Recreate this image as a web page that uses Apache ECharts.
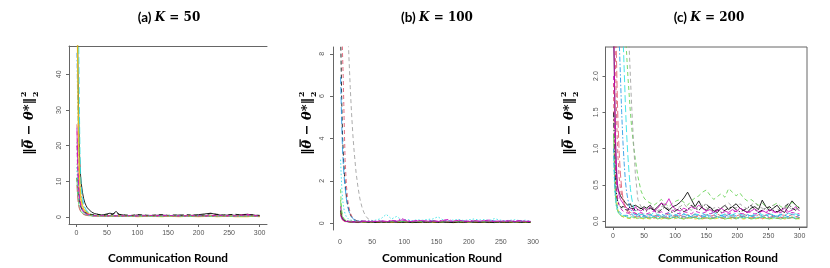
<!DOCTYPE html>
<html><head><meta charset="utf-8">
<script src="https://cdn.jsdelivr.net/npm/echarts@6/dist/echarts.min.js"></script>
<style>html,body{margin:0;padding:0;background:#fff}#c{width:830px;height:268px}</style>
</head><body><div id="c"></div>
<script>
// ---------- tick labels ----------
const xTicks = [0, 50, 100, 150, 200, 250, 300];
const yTicksK50 = [0, 10, 20, 30, 40];
const yTicksK100 = [0, 2, 4, 6, 8];
const yTicksK200 = [0, 0.5, 1.0, 1.5, 2.0];
const titles = ['(a) ', '(b) ', '(c) '];
const kValues = ['50', '100', '200'];
const xName = 'Communication Round';

// ---------- (a) K = 50 ----------
const roundsK50 = [1,2,3,4,5,6,7,8,10,12,14,16,18,20,25,30,35,40,45,50,55,60,65,70,80,90,100,110,120,130,140,150,160,170,180,190,200,210,220,230,240,250,260,270,280,290,300];
const k50_1 = [62,50,38,27,19,14,11.5,9.5,7,5.2,4,3.2,2.6,2.1,1.4,1.0,0.8,0.6,0.7,0.9,1.1,0.9,1.6,0.8,0.5,0.4,0.6,0.5,0.4,0.5,0.6,0.4,0.5,0.6,0.4,0.5,0.7,0.9,1.1,0.7,0.5,0.6,0.5,0.7,0.8,0.6,0.3];
const k50_2 = [26,19,14,10,7.5,5.8,4.6,3.7,2.6,1.9,1.5,1.2,1.0,0.85,0.6,0.45,0.4,0.35,0.45,0.3,0.4,0.35,0.3,0.4,0.3,0.4,0.5,0.35,0.3,0.45,0.4,0.5,0.3,0.4,0.35,0.5,0.4,0.3,0.45,0.6,0.4,0.5,0.35,0.6,0.8,0.5,0.4];
const k50_3 = [21,15,11,8,6,4.7,3.8,3.1,2.2,1.6,1.2,1.0,0.8,0.7,0.5,0.4,0.5,0.6,0.4,0.7,0.5,0.4,0.3,0.5,0.4,0.3,0.5,0.4,0.3,0.4,0.5,0.3,0.4,0.5,0.3,0.4,0.3,0.5,0.4,0.3,0.5,0.4,0.3,0.4,0.5,0.3,0.2];
const k50_4 = [46,35,26,19,14,10.5,8,6.2,4.2,3.0,2.2,1.7,1.35,1.1,0.7,0.5,0.45,0.4,0.5,0.35,0.3,0.4,0.35,0.3,0.35,0.3,0.25,0.3,0.35,0.3,0.25,0.35,0.3,0.4,0.3,0.25,0.3,0.35,0.3,0.25,0.3,0.35,0.3,0.25,0.3,0.35,0.2];
const k50_5 = [70,62,55,47,30,18,12,8.5,5.5,3.8,2.8,2.1,1.6,1.3,0.8,0.55,0.45,0.4,0.35,0.5,0.4,0.3,0.35,0.4,0.3,0.35,0.4,0.3,0.25,0.35,0.3,0.4,0.35,0.3,0.25,0.3,0.35,0.4,0.3,0.35,0.25,0.3,0.4,0.35,0.3,0.25,0.2];
const k50_6 = [25,17,12,8.5,6,4.5,3.4,2.7,1.8,1.3,1.0,0.8,0.65,0.55,0.4,0.35,0.3,0.4,0.3,0.35,0.3,0.4,0.3,0.35,0.3,0.4,0.35,0.3,0.4,0.5,0.35,0.4,0.3,0.35,0.4,0.3,0.35,0.4,0.5,0.35,0.3,0.4,0.3,0.5,0.7,0.4,0.3];
const k50_7 = [70,48,30,19,12,8.5,6.2,4.8,3.2,2.3,1.8,1.4,1.1,0.9,0.6,0.5,0.4,0.35,0.3,0.3,0.4,0.3,0.25,0.3,0.25,0.3,0.2,0.25,0.3,0.25,0.2,0.3,0.25,0.2,0.3,0.25,0.2,0.25,0.3,0.2,0.25,0.3,0.2,0.25,0.2,0.3,0.2];
const k50_8 = [15,11,8,6,4.6,3.6,2.9,2.4,1.7,1.3,1.0,0.8,0.7,0.6,0.45,0.4,0.35,0.3,0.4,0.3,0.35,0.3,0.25,0.3,0.2,0.25,0.3,0.2,0.25,0.3,0.2,0.25,0.2,0.3,0.25,0.2,0.25,0.3,0.2,0.25,0.2,0.3,0.25,0.2,0.3,0.25,0.2];
const k50_9 = [11,8.5,6.5,5.2,4.2,3.5,3.0,2.6,2.0,1.6,1.3,1.1,1.0,0.9,0.7,0.6,0.8,0.6,0.5,0.7,0.6,0.8,1.2,0.7,0.6,0.5,0.7,0.6,0.5,0.6,0.7,0.5,0.6,0.5,0.7,0.6,0.5,0.6,1.0,0.8,0.6,0.7,0.8,0.6,0.7,0.6,0.5];
const k50_10 = [11,7,5,3.6,2.7,2.1,1.7,1.4,1.0,0.8,0.65,0.55,0.5,0.45,0.35,0.3,0.35,0.3,0.25,0.3,0.25,0.3,0.25,0.2,0.25,0.2,0.3,0.25,0.2,0.25,0.2,0.3,0.25,0.2,0.25,0.2,0.3,0.25,0.2,0.25,0.3,0.2,0.25,0.2,0.3,0.25,0.15];
const k50_11 = [9,6,4.2,3.1,2.4,1.9,1.6,1.3,1.0,0.8,0.6,0.5,0.45,0.4,0.3,0.3,0.25,0.3,0.2,0.25,0.3,0.2,0.25,0.2,0.2,0.25,0.2,0.3,0.2,0.25,0.2,0.3,0.25,0.2,0.25,0.3,0.2,0.25,0.2,0.3,0.25,0.2,0.3,0.25,0.35,0.25,0.2];
const k50_12 = [14,9.5,6.8,5,3.8,3.0,2.4,2.0,1.4,1.1,0.85,0.7,0.6,0.5,0.4,0.35,0.3,0.35,0.3,0.25,0.3,0.35,0.3,0.25,0.3,0.25,0.3,0.35,0.3,0.25,0.3,0.35,0.4,0.3,0.25,0.3,0.35,0.3,0.25,0.3,0.35,0.3,0.25,0.3,0.35,0.3,0.2];
const k50_13 = [20,14,10,7.2,5.4,4.2,3.4,2.8,2.0,1.5,1.2,1.0,0.85,0.75,0.55,0.45,0.5,0.4,0.45,0.35,0.4,0.45,0.4,0.35,0.4,0.45,0.35,0.4,0.5,0.4,0.45,0.5,0.4,0.35,0.4,0.45,0.4,0.35,0.4,0.5,0.45,0.4,0.35,0.5,0.6,0.45,0.35];

// ---------- (b) K = 100 ----------
const roundsK100 = [1,2,3,4,5,6,7,8,10,12,14,16,18,20,22,25,28,31,34,37,40,44,48,52,56,64,72,80,88,96,104,112,120,128,136,144,152,160,168,176,184,192,200,208,216,224,232,240,248,256,264,272,280,288,296];
const k100_1 = [9,7.2,5.4,4.2,3.4,2.8,2.3,1.9,1.25,0.85,0.6,0.42,0.3,0.22,0.16,0.12,0.1,0.08,0.1,0.07,0.08,0.06,0.07,0.05,0.06,0.08,0.05,0.07,0.06,0.05,0.08,0.06,0.05,0.07,0.06,0.08,0.05,0.06,0.07,0.05,0.06,0.08,0.06,0.05,0.07,0.06,0.05,0.07,0.06,0.08,0.05,0.06,0.07,0.05,0.06];
const k100_2 = [12,11,10,8.0,7.0,5.6,4.2,3.0,1.8,1.1,0.75,0.5,0.35,0.25,0.18,0.12,0.1,0.08,0.09,0.07,0.06,0.08,0.06,0.05,0.05,0.07,0.06,0.05,0.08,0.06,0.05,0.07,0.06,0.05,0.06,0.07,0.05,0.08,0.06,0.05,0.07,0.06,0.05,0.06,0.08,0.05,0.06,0.07,0.05,0.06,0.05,0.07,0.06,0.05,0.06];
const k100_3 = [12,12,12,12,12,12,12,12,11,9.4,7.8,6.4,5.2,4.2,3.4,2.4,1.7,1.15,0.78,0.52,0.34,0.2,0.12,0.09,0.08,0.07,0.06,0.08,0.07,0.06,0.05,0.07,0.06,0.08,0.07,0.06,0.05,0.07,0.06,0.08,0.06,0.05,0.07,0.06,0.05,0.07,0.06,0.08,0.05,0.06,0.07,0.06,0.05,0.07,0.06];
const k100_4 = [6.9,5.6,4.4,3.5,2.9,2.4,2.0,1.7,1.15,0.8,0.55,0.4,0.3,0.22,0.16,0.12,0.1,0.09,0.08,0.1,0.07,0.08,0.06,0.07,0.08,0.1,0.07,0.09,0.12,0.08,0.1,0.07,0.09,0.08,0.1,0.12,0.09,0.08,0.1,0.07,0.09,0.11,0.08,0.1,0.09,0.07,0.1,0.12,0.08,0.09,0.1,0.07,0.09,0.08,0.07];
const k100_5 = [3.0,2.2,1.6,1.2,0.9,0.7,0.55,0.45,0.3,0.22,0.18,0.15,0.14,0.12,0.13,0.1,0.12,0.15,0.11,0.13,0.1,0.12,0.14,0.12,0.15,0.22,0.42,0.2,0.32,0.15,0.18,0.12,0.16,0.14,0.18,0.2,0.3,0.16,0.12,0.15,0.18,0.13,0.16,0.2,0.15,0.17,0.13,0.22,0.15,0.12,0.14,0.16,0.12,0.14,0.1];
const k100_6 = [1.1,0.6,0.4,0.3,0.22,0.18,0.15,0.12,0.1,0.09,0.08,0.1,0.07,0.08,0.09,0.07,0.06,0.08,0.07,0.06,0.08,0.07,0.06,0.07,0.06,0.08,0.07,0.05,0.06,0.08,0.07,0.06,0.05,0.07,0.06,0.05,0.07,0.08,0.06,0.05,0.07,0.06,0.08,0.05,0.06,0.07,0.05,0.06,0.08,0.06,0.05,0.07,0.06,0.05,0.06];
const k100_7 = [0.8,0.5,0.35,0.25,0.2,0.16,0.14,0.12,0.1,0.12,0.09,0.1,0.11,0.08,0.1,0.09,0.12,0.1,0.08,0.11,0.09,0.1,0.12,0.09,0.1,0.12,0.09,0.14,0.1,0.22,0.12,0.1,0.13,0.09,0.11,0.12,0.1,0.14,0.18,0.1,0.12,0.09,0.11,0.13,0.1,0.12,0.15,0.1,0.09,0.12,0.1,0.11,0.13,0.1,0.09];
const k100_8 = [0.5,0.3,0.2,0.15,0.12,0.1,0.08,0.07,0.06,0.05,0.06,0.04,0.05,0.04,0.05,0.04,0.03,0.05,0.04,0.03,0.04,0.05,0.03,0.04,0.04,0.03,0.05,0.04,0.03,0.04,0.05,0.03,0.04,0.03,0.05,0.04,0.03,0.04,0.05,0.03,0.04,0.03,0.05,0.04,0.03,0.04,0.03,0.05,0.04,0.03,0.04,0.05,0.03,0.04,0.03];
const k100_9 = [0.6,0.35,0.25,0.2,0.15,0.12,0.1,0.09,0.08,0.07,0.06,0.07,0.05,0.06,0.05,0.06,0.04,0.05,0.06,0.04,0.05,0.04,0.05,0.04,0.04,0.05,0.04,0.06,0.05,0.04,0.05,0.03,0.04,0.05,0.04,0.06,0.04,0.05,0.04,0.03,0.05,0.04,0.06,0.05,0.04,0.05,0.04,0.03,0.05,0.04,0.05,0.06,0.04,0.05,0.04];
const k100_10 = [1.6,0.9,0.55,0.38,0.28,0.22,0.18,0.15,0.12,0.1,0.09,0.1,0.08,0.09,0.07,0.08,0.09,0.07,0.08,0.06,0.07,0.08,0.06,0.07,0.07,0.09,0.06,0.08,0.1,0.07,0.08,0.06,0.09,0.07,0.08,0.1,0.07,0.06,0.08,0.09,0.07,0.08,0.06,0.1,0.08,0.07,0.09,0.06,0.08,0.07,0.09,0.06,0.08,0.07,0.06];
const k100_11 = [0.4,0.28,0.2,0.15,0.12,0.1,0.09,0.08,0.07,0.08,0.06,0.07,0.08,0.06,0.07,0.06,0.08,0.07,0.06,0.08,0.07,0.09,0.07,0.08,0.08,0.1,0.07,0.12,0.09,0.15,0.1,0.08,0.11,0.13,0.09,0.1,0.08,0.12,0.1,0.09,0.14,0.1,0.08,0.11,0.09,0.12,0.1,0.08,0.1,0.09,0.11,0.08,0.1,0.09,0.08];

// ---------- (c) K = 200 ----------
const roundsK200 = [1,2,3,4,5,6,7,8,10,12,14,16,18,20,22,24,26,28,30,33,36,40,45,50,54,60,66,72,78,84,90,96,102,108,114,120,126,132,138,144,150,156,162,168,174,180,186,192,198,204,210,216,222,228,234,240,246,252,258,264,270,276,282,288,294,300];
const k200_1 = [2.6,2.2,1.6,1.1,0.8,0.6,0.5,0.45,0.4,0.35,0.32,0.3,0.28,0.25,0.27,0.22,0.2,0.24,0.2,0.18,0.22,0.2,0.17,0.2,0.18,0.22,0.15,0.2,0.25,0.18,0.15,0.2,0.22,0.26,0.32,0.4,0.3,0.2,0.28,0.18,0.15,0.2,0.14,0.12,0.18,0.22,0.16,0.2,0.24,0.18,0.15,0.12,0.18,0.2,0.16,0.29,0.2,0.14,0.18,0.22,0.15,0.12,0.2,0.28,0.22,0.18];
const k200_2 = [3.5,3.0,2.6,2.2,1.8,1.4,1.1,0.9,0.6,0.45,0.35,0.3,0.25,0.2,0.18,0.15,0.14,0.12,0.1,0.12,0.1,0.09,0.1,0.08,0.08,0.1,0.07,0.09,0.06,0.08,0.1,0.07,0.09,0.08,0.06,0.09,0.07,0.1,0.08,0.06,0.09,0.07,0.08,0.1,0.07,0.09,0.06,0.08,0.07,0.09,0.1,0.07,0.08,0.06,0.09,0.07,0.08,0.1,0.07,0.06,0.09,0.08,0.07,0.09,0.06,0.08];
const k200_3 = [4,4,4,4,4,4,4,4,4,3.8,3.5,3.2,2.9,2.6,2.3,2.0,1.75,1.5,1.3,1.05,0.85,0.62,0.42,0.32,0.28,0.25,0.22,0.26,0.3,0.24,0.2,0.25,0.28,0.3,0.26,0.22,0.28,0.32,0.35,0.4,0.43,0.36,0.3,0.34,0.38,0.33,0.45,0.4,0.35,0.39,0.32,0.28,0.3,0.26,0.22,0.25,0.2,0.18,0.22,0.25,0.2,0.18,0.22,0.26,0.22,0.18];
const k200_4 = [4,4,4,3.8,3.6,3.4,3.2,3.0,2.5,2.0,1.5,1.1,0.8,0.55,0.4,0.3,0.22,0.17,0.14,0.1,0.09,0.08,0.07,0.06,0.06,0.05,0.07,0.04,0.06,0.05,0.08,0.05,0.06,0.04,0.07,0.05,0.06,0.05,0.04,0.06,0.07,0.05,0.04,0.06,0.05,0.07,0.04,0.06,0.05,0.04,0.06,0.05,0.07,0.05,0.04,0.06,0.05,0.04,0.06,0.07,0.05,0.04,0.06,0.05,0.04,0.05];
const k200_5 = [4,4,4,4,4,4,4,4,4,3.8,3.2,2.6,2.1,1.6,1.2,0.9,0.65,0.45,0.32,0.2,0.14,0.11,0.09,0.1,0.1,0.08,0.12,0.09,0.07,0.1,0.11,0.08,0.09,0.12,0.1,0.08,0.07,0.1,0.09,0.11,0.08,0.1,0.12,0.09,0.08,0.1,0.07,0.09,0.11,0.1,0.08,0.09,0.07,0.1,0.12,0.09,0.08,0.1,0.09,0.07,0.1,0.08,0.11,0.09,0.1,0.08];
const k200_6 = [2.8,2.2,1.6,1.2,0.9,0.7,0.55,0.45,0.35,0.3,0.28,0.25,0.22,0.2,0.18,0.2,0.16,0.15,0.18,0.14,0.2,0.16,0.14,0.18,0.15,0.2,0.14,0.18,0.25,0.22,0.31,0.2,0.16,0.14,0.18,0.15,0.2,0.17,0.22,0.18,0.14,0.16,0.12,0.15,0.18,0.14,0.12,0.16,0.13,0.18,0.15,0.12,0.14,0.17,0.13,0.15,0.12,0.16,0.14,0.12,0.15,0.18,0.13,0.15,0.2,0.14];
const k200_7 = [1.9,1.3,0.9,0.6,0.4,0.3,0.22,0.16,0.1,0.08,0.07,0.06,0.05,0.06,0.04,0.05,0.04,0.05,0.03,0.04,0.05,0.03,0.04,0.03,0.04,0.03,0.05,0.04,0.03,0.05,0.04,0.03,0.04,0.05,0.03,0.04,0.05,0.03,0.04,0.03,0.05,0.04,0.03,0.04,0.05,0.03,0.04,0.03,0.05,0.04,0.03,0.04,0.05,0.03,0.04,0.03,0.05,0.04,0.03,0.04,0.05,0.03,0.04,0.05,0.04,0.03];
const k200_8 = [4,4,4,4,4,4,4,4,4,4,4,4,4,4,4,3.0,2.4,2.0,1.6,1.1,0.65,0.3,0.2,0.18,0.16,0.2,0.18,0.14,0.2,0.22,0.17,0.14,0.18,0.2,0.24,0.18,0.15,0.2,0.17,0.22,0.19,0.15,0.18,0.2,0.16,0.22,0.25,0.2,0.18,0.24,0.2,0.17,0.22,0.26,0.2,0.18,0.15,0.2,0.22,0.17,0.14,0.18,0.2,0.16,0.18,0.15];
const k200_9 = [1.5,1.1,0.8,0.6,0.45,0.35,0.3,0.26,0.22,0.2,0.18,0.22,0.2,0.16,0.18,0.15,0.2,0.17,0.15,0.18,0.14,0.16,0.18,0.15,0.14,0.18,0.15,0.12,0.16,0.2,0.14,0.12,0.15,0.18,0.13,0.16,0.22,0.18,0.15,0.2,0.24,0.18,0.14,0.16,0.12,0.15,0.18,0.2,0.16,0.13,0.15,0.18,0.22,0.16,0.12,0.15,0.18,0.2,0.15,0.13,0.16,0.2,0.24,0.18,0.15,0.2];
const k200_10 = [4,4,3.6,3.0,2.5,2.1,1.7,1.4,0.95,0.65,0.45,0.32,0.24,0.18,0.15,0.12,0.1,0.09,0.08,0.07,0.08,0.06,0.07,0.06,0.05,0.06,0.04,0.07,0.05,0.06,0.04,0.05,0.07,0.05,0.06,0.04,0.05,0.06,0.07,0.05,0.04,0.06,0.05,0.07,0.04,0.05,0.06,0.05,0.04,0.06,0.07,0.05,0.04,0.06,0.05,0.04,0.06,0.05,0.07,0.04,0.05,0.06,0.04,0.05,0.06,0.05];
const k200_11 = [1.2,0.8,0.5,0.35,0.25,0.2,0.16,0.13,0.1,0.08,0.07,0.06,0.07,0.05,0.06,0.05,0.04,0.05,0.06,0.04,0.05,0.04,0.05,0.04,0.05,0.04,0.06,0.03,0.05,0.04,0.03,0.05,0.06,0.04,0.03,0.05,0.04,0.06,0.03,0.04,0.05,0.03,0.04,0.06,0.05,0.03,0.04,0.05,0.03,0.06,0.04,0.05,0.03,0.04,0.05,0.06,0.04,0.03,0.05,0.04,0.03,0.05,0.04,0.06,0.03,0.04];
const k200_12 = [1.0,0.7,0.5,0.38,0.3,0.24,0.2,0.17,0.13,0.11,0.1,0.09,0.08,0.1,0.08,0.09,0.07,0.08,0.1,0.07,0.08,0.09,0.07,0.08,0.07,0.09,0.06,0.08,0.1,0.07,0.06,0.09,0.08,0.07,0.1,0.08,0.06,0.09,0.07,0.08,0.1,0.07,0.09,0.06,0.08,0.07,0.09,0.1,0.07,0.08,0.06,0.09,0.07,0.08,0.1,0.07,0.09,0.06,0.08,0.07,0.09,0.08,0.06,0.1,0.07,0.08];
const k200_13 = [0.9,0.6,0.42,0.3,0.22,0.17,0.14,0.12,0.1,0.09,0.08,0.07,0.08,0.06,0.07,0.06,0.05,0.07,0.06,0.05,0.06,0.07,0.05,0.06,0.06,0.05,0.07,0.04,0.06,0.08,0.05,0.06,0.04,0.07,0.05,0.06,0.08,0.05,0.04,0.06,0.07,0.05,0.06,0.04,0.07,0.05,0.06,0.08,0.05,0.04,0.06,0.05,0.07,0.04,0.06,0.05,0.08,0.06,0.04,0.05,0.07,0.06,0.04,0.05,0.06,0.05];
const k200_14 = [2.0,1.5,1.1,0.8,0.6,0.45,0.36,0.3,0.22,0.18,0.16,0.14,0.15,0.12,0.14,0.11,0.13,0.12,0.1,0.12,0.11,0.1,0.12,0.1,0.1,0.12,0.14,0.11,0.13,0.1,0.12,0.15,0.11,0.1,0.13,0.12,0.1,0.14,0.12,0.11,0.13,0.1,0.12,0.15,0.11,0.13,0.1,0.12,0.14,0.11,0.1,0.13,0.12,0.1,0.11,0.14,0.12,0.1,0.13,0.11,0.12,0.15,0.1,0.12,0.11,0.1];

// ---------- styling ----------
const COLORS = ['#000000','#DF536B','#61D04F','#2297E6','#28E2E5','#CD0BBC','#F5C710','#9E9E9E'];
const DASHES = ['solid',[4,3],[1.5,2],[5,2,1.5,2],[7,3]];
const AX = '#666';
const LBL = '#555';

function line(g, xs, ys, ci, di, w) {
  return {
    type: 'line', xAxisIndex: g, yAxisIndex: g,
    data: xs.map((x, i) => [x, ys[i]]),
    symbol: 'none', showSymbol: false, silent: true, clip: true, animation: false,
    lineStyle: { color: COLORS[ci], width: w || 1, type: DASHES[di], opacity: 0.85 }
  };
}

const series = [
  line(0, roundsK50, k50_1, 0, 0), line(0, roundsK50, k50_2, 1, 1), line(0, roundsK50, k50_3, 2, 2),
  line(0, roundsK50, k50_4, 3, 3), line(0, roundsK50, k50_5, 4, 4), line(0, roundsK50, k50_6, 5, 0),
  line(0, roundsK50, k50_7, 6, 0, 1.4), line(0, roundsK50, k50_8, 7, 2), line(0, roundsK50, k50_9, 0, 1),
  line(0, roundsK50, k50_10, 2, 0), line(0, roundsK50, k50_11, 1, 4), line(0, roundsK50, k50_12, 4, 2),
  line(0, roundsK50, k50_13, 5, 1),

  line(1, roundsK100, k100_1, 0, 1), line(1, roundsK100, k100_2, 1, 1), line(1, roundsK100, k100_3, 7, 1),
  line(1, roundsK100, k100_4, 3, 4), line(1, roundsK100, k100_5, 4, 2), line(1, roundsK100, k100_6, 2, 0),
  line(1, roundsK100, k100_7, 5, 3), line(1, roundsK100, k100_8, 6, 1), line(1, roundsK100, k100_9, 0, 0),
  line(1, roundsK100, k100_10, 2, 1), line(1, roundsK100, k100_11, 5, 0),

  line(2, roundsK200, k200_1, 0, 0), line(2, roundsK200, k200_2, 1, 1), line(2, roundsK200, k200_3, 2, 1),
  line(2, roundsK200, k200_4, 3, 3), line(2, roundsK200, k200_5, 4, 4), line(2, roundsK200, k200_6, 5, 0),
  line(2, roundsK200, k200_7, 6, 1), line(2, roundsK200, k200_8, 7, 1), line(2, roundsK200, k200_9, 0, 3),
  line(2, roundsK200, k200_10, 1, 4), line(2, roundsK200, k200_11, 2, 0), line(2, roundsK200, k200_12, 3, 1),
  line(2, roundsK200, k200_13, 4, 2), line(2, roundsK200, k200_14, 5, 1)
];

function xAx(g, min, max, opts) {
  return Object.assign({
    gridIndex: g, type: 'value', min: min, max: max, position: 'bottom',
    axisLine: { show: true, onZero: false, lineStyle: { color: AX, width: 1 } },
    axisTick: { show: true, length: 3, lineStyle: { color: AX }, customValues: xTicks },
    axisLabel: { fontSize: 7, color: LBL, fontFamily: 'Liberation Sans', margin: 6, customValues: xTicks },
    splitLine: { show: false }
  }, opts || {});
}
function yAx(g, min, max, ticks, fmt, opts) {
  return Object.assign({
    gridIndex: g, type: 'value', min: min, max: max,
    axisLine: { show: true, onZero: false, lineStyle: { color: AX, width: 1 } },
    axisTick: { show: true, length: 3, lineStyle: { color: AX }, customValues: ticks },
    axisLabel: { fontSize: 7, color: LBL, fontFamily: 'Liberation Sans', rotate: 90, margin: 6, customValues: ticks, formatter: fmt },
    splitLine: { show: false }
  }, opts || {});
}

// measure text widths to place the overline on the first theta
const NAME_FONT = 'italic bold 13px "DejaVu Serif"';
const mctx = document.createElement('canvas').getContext('2d');
mctx.font = NAME_FONT;
const wBar = mctx.measureText('‖').width;
const wTheta = mctx.measureText('θ').width;
const wFull = mctx.measureText('‖θ − θ*‖').width;
const nameStart = -31;

const yName = (cx) => ({
  type: 'group', x: cx, y: 124, rotation: Math.PI / 2, silent: true,
  children: [
    { type: 'text', x: nameStart, y: 0, style: { text: '‖θ − θ*‖', font: NAME_FONT, fill: '#000', align: 'left', verticalAlign: 'middle', textAlign: 'left', textVerticalAlign: 'middle' } },
    { type: 'rect', shape: { x: nameStart + wBar + 1.5, y: -8.5, width: wTheta - 1, height: 1.3 }, style: { fill: '#000' } },
    { type: 'text', x: nameStart + wFull + 1, y: -6, style: { text: '2', font: 'bold 8px "DejaVu Serif"', fill: '#000', align: 'left', verticalAlign: 'middle', textAlign: 'left', textVerticalAlign: 'middle' } },
    { type: 'text', x: nameStart + wFull + 1, y: 6, style: { text: '2', font: 'bold 8px "DejaVu Serif"', fill: '#000', align: 'left', verticalAlign: 'middle', textAlign: 'left', textVerticalAlign: 'middle' } }
  ]
});
const titleText = (cx, i) => ({
  type: 'text', x: cx, y: 18, silent: true,
  style: {
    text: '{p|' + titles[i] + '}{k|K}{e| = ' + kValues[i] + '}',
    rich: {
      p: { fontFamily: 'Lato', fontWeight: 'bold', fontSize: 13.5, fill: '#000' },
      k: { fontFamily: 'DejaVu Serif', fontWeight: 'bold', fontStyle: 'italic', fontSize: 12, fill: '#000' },
      e: { fontFamily: 'DejaVu Serif', fontWeight: 'bold', fontSize: 12, fill: '#000' }
    },
    align: 'center', verticalAlign: 'middle', textAlign: 'center', textVerticalAlign: 'middle'
  }
});
const xNameText = (cx) => ({
  type: 'text', x: cx, y: 258, silent: true,
  style: { text: xName, font: 'bold 11.8px Lato', fill: '#000', align: 'center', verticalAlign: 'middle', textAlign: 'center', textVerticalAlign: 'middle' }
});

const option = {
  animation: false,
  backgroundColor: '#fff',
  grid: [
    { left: 69, top: 46, width: 198, height: 178, outerBoundsMode: 'none' },
    { left: 333, top: 47, width: 204.5, height: 183, outerBoundsMode: 'none' },
    { left: 605.5, top: 47, width: 201.5, height: 180, show: true, borderColor: AX, borderWidth: 1, outerBoundsMode: 'none' }
  ],
  xAxis: [
    xAx(0, -12, 312),
    xAx(1, -10.8, 306.8, { axisLine: { show: false, onZero: false }, axisTick: { show: false, customValues: xTicks }, axisLabel: { fontSize: 7, color: LBL, fontFamily: 'Liberation Sans', margin: 9, customValues: xTicks } }),
    xAx(2, -12, 312),
    { gridIndex: 0, type: 'value', min: -12, max: 312, position: 'top',
      axisLine: { show: true, onZero: false, lineStyle: { color: AX, width: 1 } },
      axisTick: { show: false }, axisLabel: { show: false }, splitLine: { show: false } }
  ],
  yAxis: [
    yAx(0, -1.92, 47.92, yTicksK50, v => String(v)),
    yAx(1, -0.32, 8.32, yTicksK100, v => String(v), { axisLabel: { fontSize: 7, color: LBL, fontFamily: 'Liberation Sans', rotate: 90, margin: 7, customValues: yTicksK100 } }),
    yAx(2, -0.08, 2.40, yTicksK200, v => v.toFixed(1))
  ],
  graphic: [
    titleText(169, 0), titleText(437, 1), titleText(709, 2),
    xNameText(168), xNameText(442), xNameText(718),
    yName(30), yName(308), yName(570)
  ],
  series: series
};

const chart = echarts.init(document.getElementById('c'), null, { renderer: 'canvas' });
chart.setOption(option);
</script>
</body></html>
